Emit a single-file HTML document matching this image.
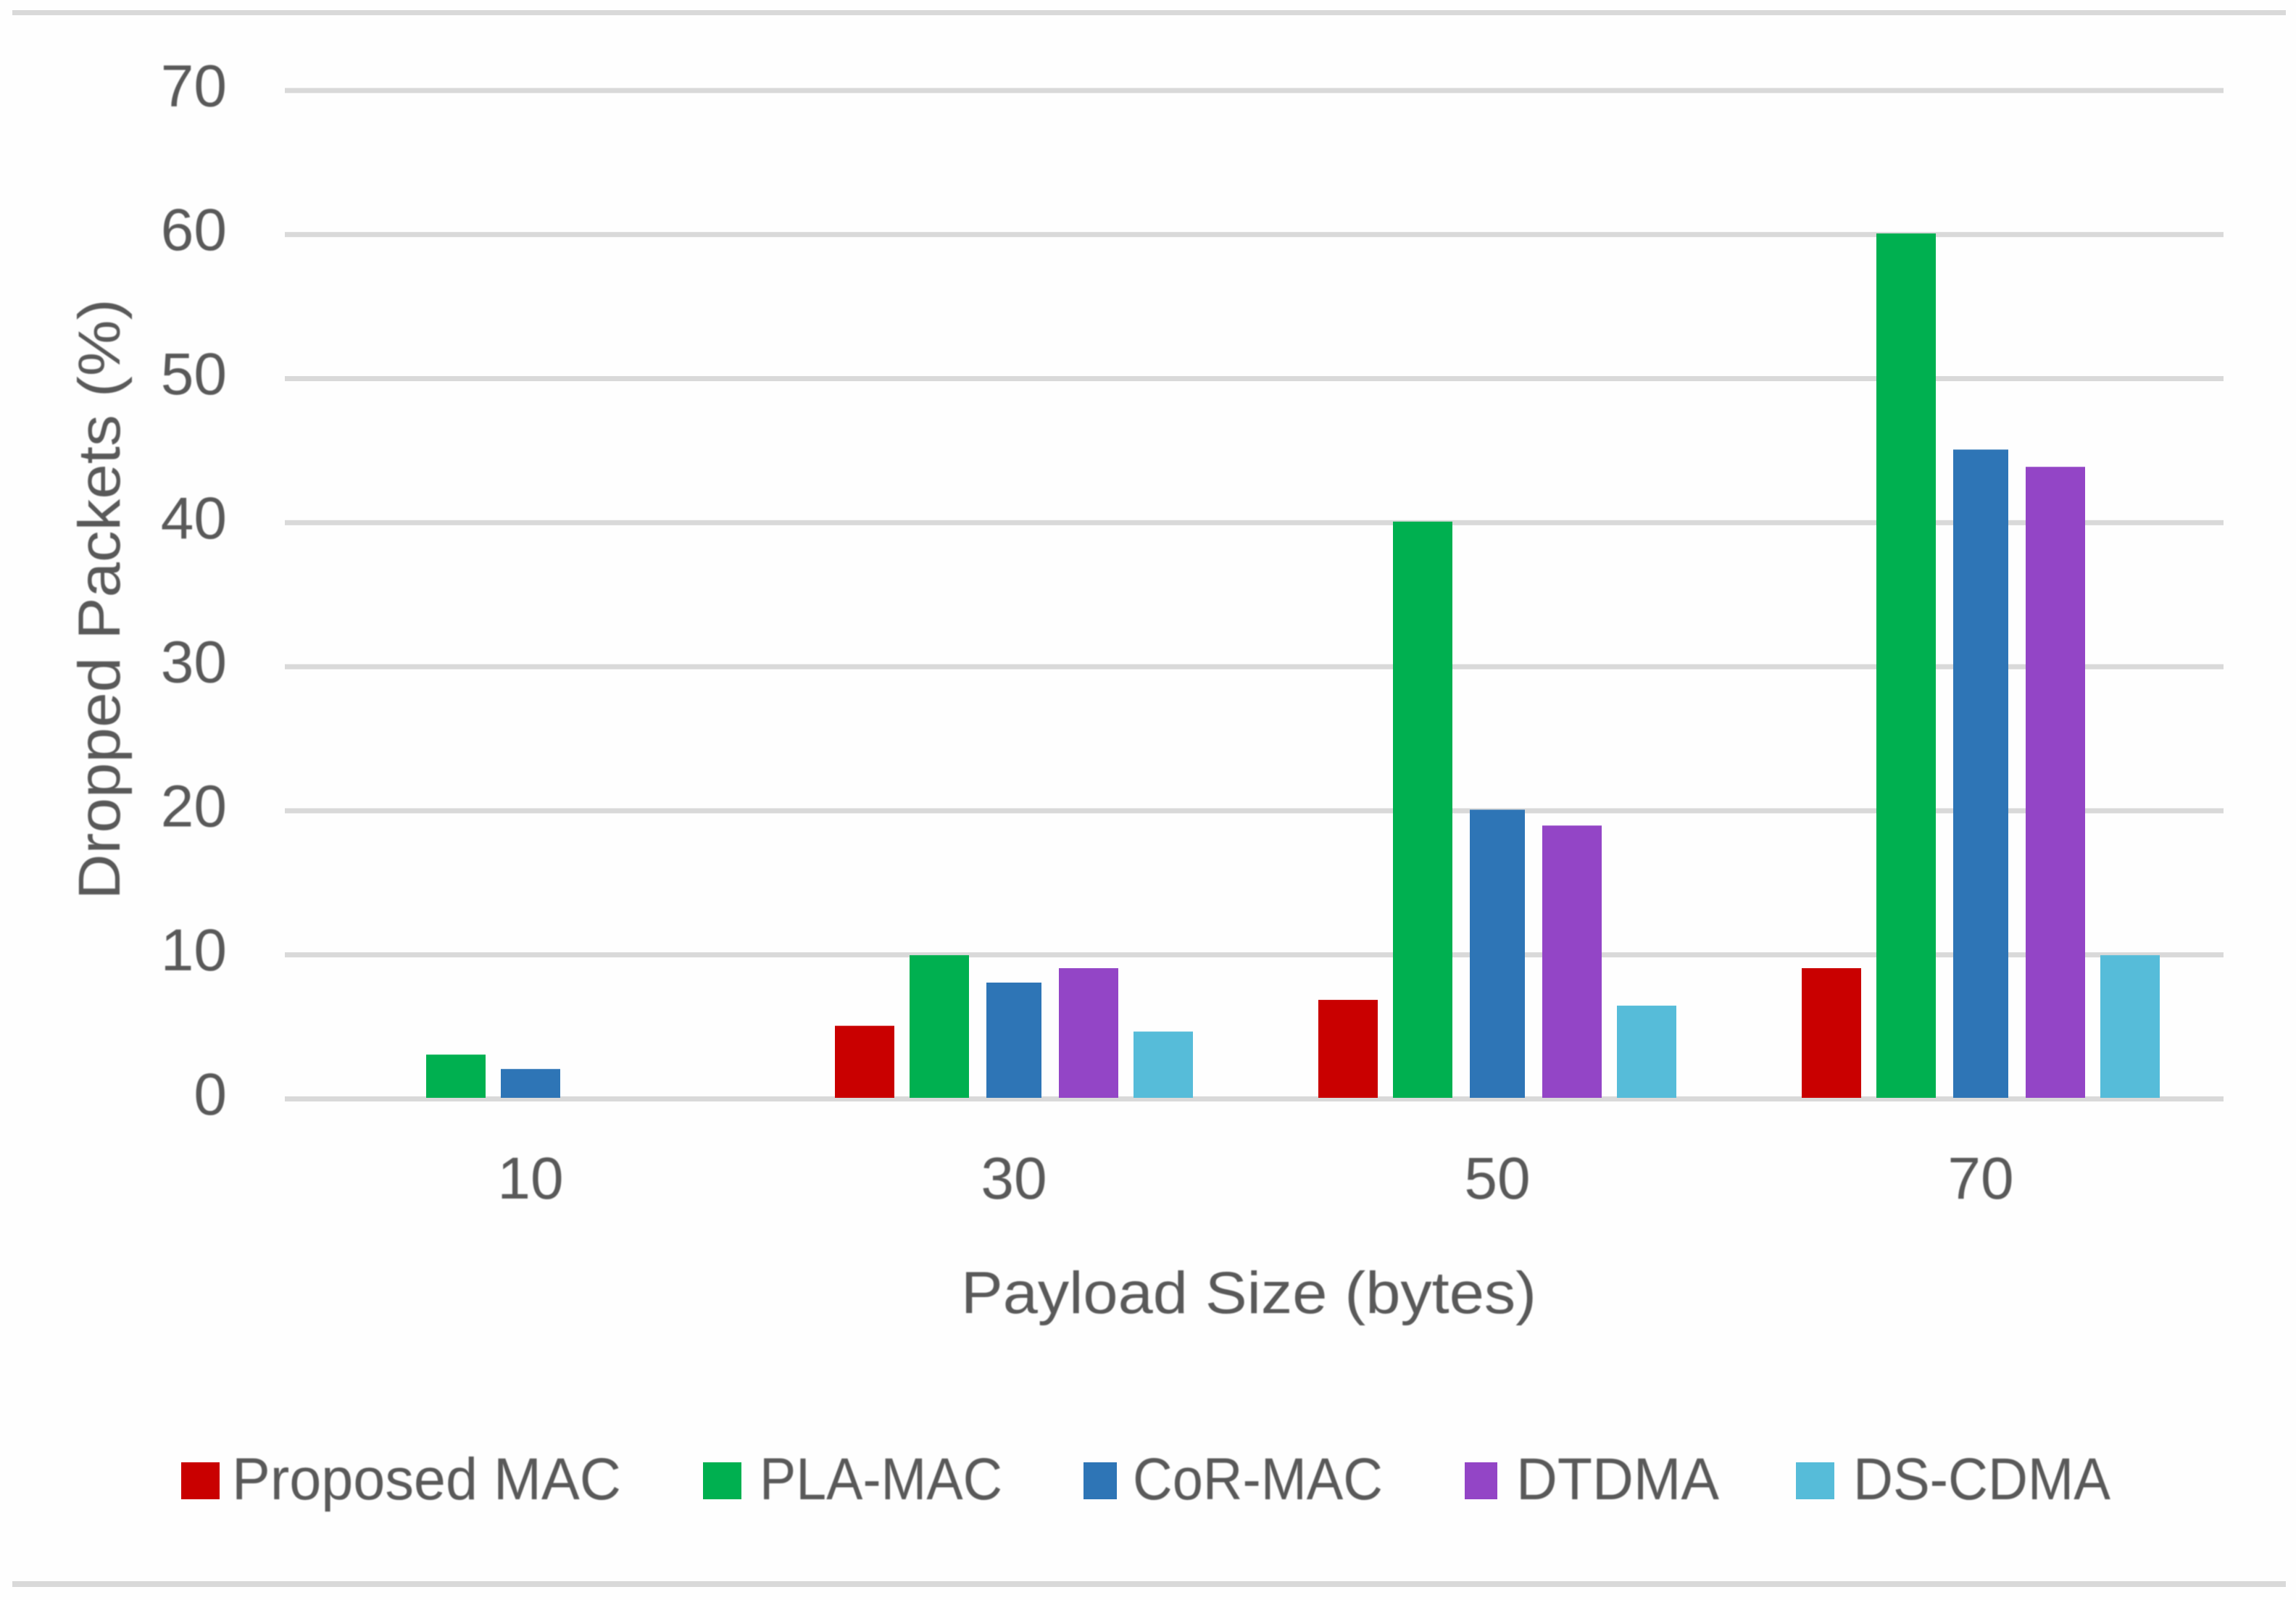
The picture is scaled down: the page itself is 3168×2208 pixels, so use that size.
<!DOCTYPE html>
<html lang="en">
<head>
<meta charset="utf-8">
<title>Dropped Packets vs Payload Size</title>
<style>
  html, body { margin: 0; padding: 0; background: #fefefe; }
  svg { display: block; }
  text { font-family: "Liberation Sans", sans-serif; fill: #595959; filter: blur(0.9px); }
</style>
</head>
<body>
<svg id="chart" xmlns="http://www.w3.org/2000/svg" width="3168" height="2208" viewBox="0 0 3168 2208">
  <rect x="0" y="0" width="3168" height="2208" fill="#fefefe"/>
  <rect x="17" y="14" width="3137" height="7" fill="#d9d9d9"/>
  <rect x="17" y="2182" width="3137" height="8" fill="#d9d9d9"/>
  <g id="grid"></g>
  <g id="y-ticks"></g>
  <g id="bars"></g>
  <g id="x-ticks"></g>
  <text transform="translate(165,827) rotate(-90)" text-anchor="middle" font-size="82" textLength="829" lengthAdjust="spacingAndGlyphs">Dropped Packets (%)</text>
  <text x="1326" y="1812" font-size="82" textLength="794" lengthAdjust="spacingAndGlyphs">Payload Size (bytes)</text>
  <g>
    <g>
      <rect x="250" y="2018" width="53" height="51" fill="#c90000"/>
      <text x="320" y="2069" font-size="82" textLength="537" lengthAdjust="spacingAndGlyphs">Proposed MAC</text>
    </g>
    <g>
      <rect x="970" y="2018" width="53" height="51" fill="#00b050"/>
      <text x="1048" y="2069" font-size="82" textLength="335" lengthAdjust="spacingAndGlyphs">PLA-MAC</text>
    </g>
    <g>
      <rect x="1495" y="2018" width="46" height="51" fill="#2e75b6"/>
      <text x="1563" y="2069" font-size="82" textLength="345" lengthAdjust="spacingAndGlyphs">CoR-MAC</text>
    </g>
    <g>
      <rect x="2021" y="2018" width="45" height="51" fill="#9345c6"/>
      <text x="2092" y="2069" font-size="82" textLength="280" lengthAdjust="spacingAndGlyphs">DTDMA</text>
    </g>
    <g>
      <rect x="2478" y="2018" width="53" height="51" fill="#56bcd9"/>
      <text x="2557" y="2069" font-size="82" textLength="355" lengthAdjust="spacingAndGlyphs">DS-CDMA</text>
    </g>
  </g>
</svg>
<script>
const categories = ["10", "30", "50", "70"];
const yTickValues = [0, 10, 20, 30, 40, 50, 60, 70];
const seriesNames = ["proposed-mac", "pla-mac", "cor-mac", "dtdma", "ds-cdma"];
const proposedMac = [0, 5, 6.8, 9];
const plaMac = [3, 9.9, 40, 60];
const corMac = [2, 8, 20, 45];
const dtdma = [0, 9, 18.9, 43.8];
const dsCdma = [0, 4.6, 6.4, 9.9];

const seriesValues = [proposedMac, plaMac, corMac, dtdma, dsCdma];
const seriesColors = ["#c90000", "#00b050", "#2e75b6", "#9345c6", "#56bcd9"];

const NS = "http://www.w3.org/2000/svg";
const yBase = 1515;
const yUnit = 19.88;
const bandLeft = 398.5;
const bandWidth = 667;
const dodge = 103;

function yScale(v) { return yBase - v * yUnit; }
function xScale(i) { return bandLeft + bandWidth * (i + 0.5); }
function barWidth(s, i) { return (s === 2 && i > 0) ? 76 : 82; }

function make(tag, attrs, text) {
  const el = document.createElementNS(NS, tag);
  for (const k in attrs) el.setAttribute(k, attrs[k]);
  if (text !== undefined) el.textContent = text;
  return el;
}

const gridGroup = document.getElementById("grid");
const yTickGroup = document.getElementById("y-ticks");
const barGroup = document.getElementById("bars");
const xTickGroup = document.getElementById("x-ticks");

yTickValues.forEach(function (v) {
  const y = yScale(v);
  const line = make("rect", { x: 393, y: y - 2, width: 2675, height: 7, fill: "#d9d9d9" });
  
  
  gridGroup.appendChild(line);

  const label = make("text", { x: 313, y: y + 23, "font-size": 82, "text-anchor": "end" }, String(v));
  
  
  yTickGroup.appendChild(label);
});

categories.forEach(function (cat, i) {
  const label = make("text", { x: xScale(i), y: 1654, "font-size": 82, "text-anchor": "middle" }, cat);
  
  
  xTickGroup.appendChild(label);

  seriesValues.forEach(function (values, s) {
    const v = values[i];
    if (!v) return;
    const w = barWidth(s, i);
    const cx = xScale(i) + (s - 2) * dodge;
    const top = yScale(v);
    const bar = make("rect", { x: cx - w / 2, y: top, width: w, height: yBase - top, fill: seriesColors[s] });
    
    
    bar.setAttribute('data-series', seriesNames[s]);
    barGroup.appendChild(bar);
  });
});
</script>
</body>
</html>
